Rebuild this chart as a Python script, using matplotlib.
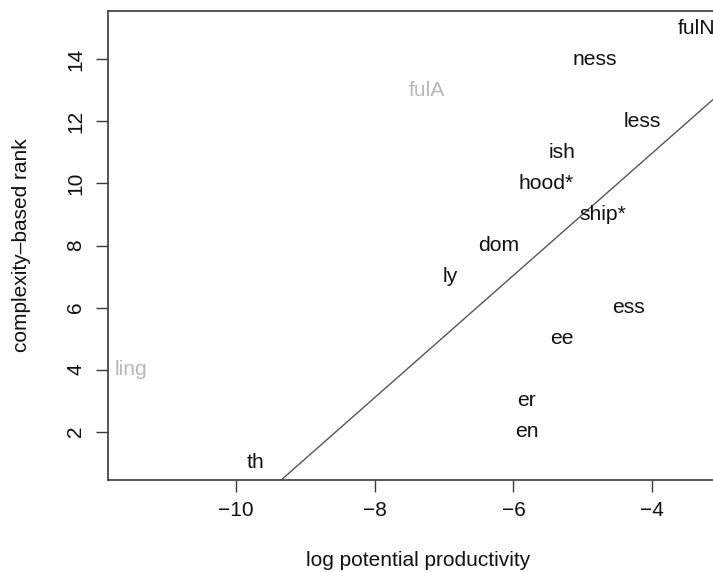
import matplotlib
matplotlib.use("Agg")
import matplotlib.pyplot as plt

plt.rcParams['font.family'] = ['Liberation Sans', 'DejaVu Sans']

# suffixes with their log potential productivity and complexity-based rank
suffixes = ["fulN", "ness", "fulA", "less", "ish", "hood*", "ship*", "dom",
            "ly", "ess", "ee", "ling", "er", "en", "th"]
log_prod = [-3.37, -4.83, -7.25, -4.14, -5.30, -5.53, -4.71, -6.21,
            -6.91, -4.34, -5.30, -11.51, -5.81, -5.81, -9.71]
rank = [15, 14, 13, 12, 11, 10, 9, 8, 7, 6, 5, 4, 3, 2, 1]
outliers = ["fulA", "ling"]

# fitted regression line (rank ~ log productivity)
fit_intercept = 18.87
fit_slope = 1.972

x_limits = (-11.84, -2.91)
y_limits = (0.44, 15.56)
x_ticks = [-10, -8, -6, -4]
y_ticks = [2, 4, 6, 8, 10, 12, 14]

fig = plt.figure(figsize=(7.13, 5.72), dpi=100)
ax = fig.add_axes([108 / 713, 92 / 572, 620 / 713, 469 / 572])

frame_col = "#3a3a3a"
for t, x, y in zip(suffixes, log_prod, rank):
    col = "#b8b8b8" if t in outliers else "#111111"
    ax.text(x, y, t, ha="center", va="center", fontsize=15.2, color=col)

ax.set_xlim(*x_limits)
ax.set_ylim(*y_limits)

ax.axline((0, fit_intercept), slope=fit_slope, color="#555555", lw=1.0)

ax.set_xticks(x_ticks)
ax.set_yticks(y_ticks)
ax.tick_params(direction="out", length=8.5, width=1.0, color=frame_col,
               labelsize=15, labelcolor="#111111")
ax.tick_params(axis="x", pad=6.5)
ax.tick_params(axis="y", pad=8)
for lab in ax.get_yticklabels():
    lab.set_rotation(90)
    lab.set_va("center")

for s in ax.spines.values():
    s.set_color(frame_col)
    s.set_linewidth(1.2)

ax.set_xlabel("log potential productivity", fontsize=15, color="#111111")
ax.set_ylabel("complexity\u2013based rank", fontsize=15, color="#111111")
ax.xaxis.set_label_coords(0.5, -0.1706)
ax.xaxis.label.set_va("center")
ax.yaxis.set_label_coords(-0.140, 0.5)
ax.yaxis.label.set_va("center")

fig.savefig("out.png", dpi=100)
